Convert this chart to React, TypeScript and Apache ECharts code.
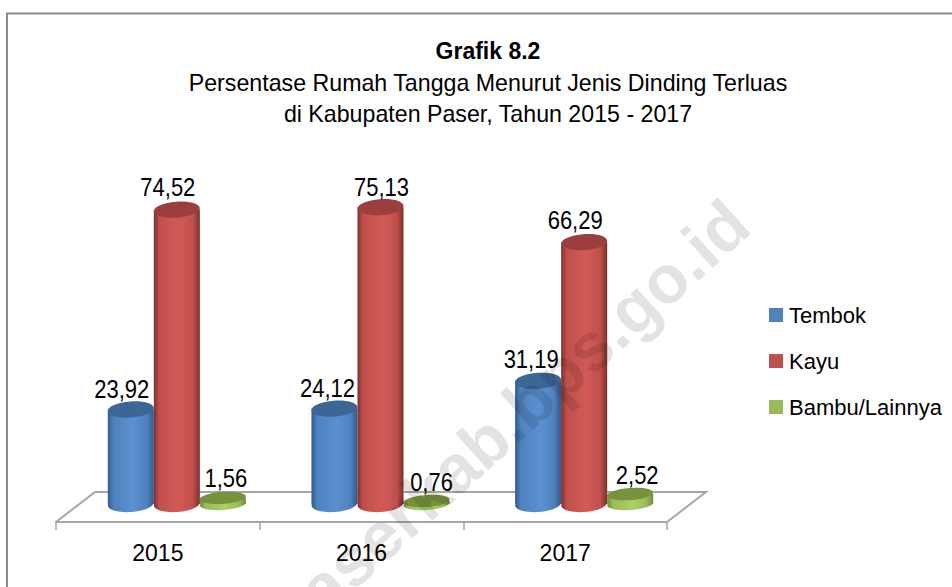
import React, { useEffect, useRef } from "react";
import * as echarts from "echarts";

const categories = ["2015", "2016", "2017"];
const tembok = [23.92, 24.12, 31.19];
const kayu = [74.52, 75.13, 66.29];
const bambu = [1.56, 0.76, 2.52];
const seriesNames = ["Tembok", "Kayu", "Bambu/Lainnya"];
const seriesValues = [tembok, kayu, bambu];
const fmt = (v: number) => v.toFixed(2).replace(".", ",");

const FONT = "'Liberation Sans',Arial,sans-serif";
const palettes = [
  { base: "#4f81bd", edge: "#31598a", light: "#5b90d0", top: "#3c6795" },
  { base: "#c0504d", edge: "#7e2f2d", light: "#d25a56", top: "#9a3f3d" },
  { base: "#9bbb59", edge: "#6f8a38", light: "#acd062", top: "#76923c" },
];
// projection of the 3D floor: shift of the bars from the front axis line
const DEPTH_X = 19;
const DEPTH_Y = 18;
const BACK_X = 39;
const BACK_Y = 30;
const TILT = 0.07;
// label nudges [dx, dy] by series / category
const labelShift = [
  [[-9, -12], [-7, -12], [-7, -13]],
  [[-9, -14], [1, -12], [-9, -14]],
  [[3, -13], [5, -12], [7, -13]],
];

const cylinder = (seriesIndex: number) => (params: any, api: any) => {
  const idx = api.value(0);
  const val = api.value(1);
  const band = api.size([1, 0])[0];
  const w = band * 0.226;
  const rx = w / 2;
  const ry = seriesIndex === 2 ? 6 : 8;
  const base = api.coord([idx, 0]);
  const top = api.coord([idx, val]);
  const cx = base[0] + DEPTH_X + (seriesIndex - 1) * w;
  const by = base[1] - DEPTH_Y;
  const ty = top[1] - DEPTH_Y;
  const p = palettes[seriesIndex];
  const grad = {
    type: "linear", x: 0, y: 0, x2: 1, y2: 0,
    colorStops: [
      { offset: 0, color: p.edge },
      { offset: 0.12, color: p.base },
      { offset: 0.55, color: p.light },
      { offset: 0.85, color: p.base },
      { offset: 1, color: p.edge },
    ],
  };
  const s = labelShift[seriesIndex][idx];
  return {
    type: "group",
    children: [
      {
        type: "ellipse",
        x: cx,
        y: by,
        rotation: TILT,
        shape: { cx: 0, cy: 0, rx, ry },
        style: { fill: grad },
      },
      {
        type: "rect",
        shape: { x: cx - rx, y: ty, width: w, height: by - ty },
        style: { fill: grad },
      },
      {
        type: "ellipse",
        x: cx,
        y: ty,
        rotation: TILT,
        shape: { cx: 0, cy: 0, rx, ry },
        style: { fill: p.top },
      },
      {
        type: "text",
        x: cx + s[0],
        y: ty - ry + s[1],
        scaleX: 0.88,
        style: {
          text: fmt(val),
          fontFamily: FONT,
          fontSize: 25,
          fill: "#000",
          align: "center",
          verticalAlign: "middle",
        },
      },
    ],
  };
};

const floor = (params: any, api: any) => {
  const cs = params.coordSys;
  const x0 = cs.x;
  const x1 = cs.x + cs.width;
  const y = cs.y + cs.height;
  return {
    type: "polyline",
    shape: {
      points: [
        [x0, y],
        [x0 + BACK_X, y - BACK_Y],
        [x1 + BACK_X, y - BACK_Y],
        [x1, y],
      ],
    },
    style: { fill: "none", stroke: "#a6a6a6", lineWidth: 2 },
  };
};

export default function App() {
  const ref = useRef<HTMLDivElement>(null);
  useEffect(() => {
    document.body.style.margin = "0";
    const chart = echarts.init(ref.current!, null, { renderer: "svg" });
    chart.setOption({
      animation: false,
      backgroundColor: "#fff",
      title: {
        left: 483,
        top: 34,
        textAlign: "center",
        text: "Grafik 8.2",
        textStyle: { fontFamily: FONT, fontSize: 23, fontWeight: "bold", color: "#000" },
        subtext: "Persentase Rumah Tangga Menurut Jenis Dinding Terluas\ndi Kabupaten Paser, Tahun 2015 - 2017",
        subtextStyle: { fontFamily: FONT, fontSize: 23.2, color: "#000", lineHeight: 31 },
        itemGap: 5,
      },
      legend: {
        left: 769,
        top: 304,
        padding: 0,
        orient: "vertical",
        itemWidth: 14,
        itemHeight: 14,
        itemGap: 24,
        icon: "rect",
        data: seriesNames,
        textStyle: { fontFamily: FONT, fontSize: 22, color: "#000", padding: [0, 0, 0, 1] },
      },
      grid: { left: 56, right: 285, top: 206, bottom: 65 },
      xAxis: {
        type: "category",
        data: categories,
        boundaryGap: true,
        axisLine: { lineStyle: { color: "#a6a6a6", width: 2 } },
        axisTick: { show: true, length: 8, lineStyle: { color: "#a6a6a6", width: 1.5 } },
        axisLabel: { fontFamily: FONT, fontSize: 23, color: "#000", margin: 19 },
      },
      yAxis: { type: "value", min: 0, max: 80, show: false, splitLine: { show: false } },
      graphic: [
        {
          type: "rect",
          shape: { x: 7, y: 13.5, width: 1000, height: 1000 },
          style: { fill: "none", stroke: "#8c8c8c", lineWidth: 2 },
          z: 0,
        },
        {
          type: "text",
          x: 738,
          y: 213,
          rotation: (42 * Math.PI) / 180,
          z: 100,
          style: {
            text: "paserkab.bps.go.id",
            fontFamily: "'Liberation Sans',Arial,sans-serif",
            fontWeight: "bold",
            fontSize: 68,
            fill: "rgba(0,0,0,0.11)",
            align: "right",
            verticalAlign: "middle",
          },
        },
      ],
      series: [
        {
          type: "custom",
          name: "floor",
          renderItem: floor,
          data: [[0, 0]],
          silent: true,
          z: 1,
        },
        ...seriesNames.map((name, i) => ({
          type: "custom",
          name,
          renderItem: cylinder(i),
          itemStyle: { color: palettes[i].base },
          encode: { x: 0, y: 1 },
          data: seriesValues[i].map((v, j) => [j, v]),
          z: 2,
        })),
      ],
    });
    return () => chart.dispose();
  }, []);
  return <div ref={ref} style={{ width: 952, height: 587 }} />;
}
